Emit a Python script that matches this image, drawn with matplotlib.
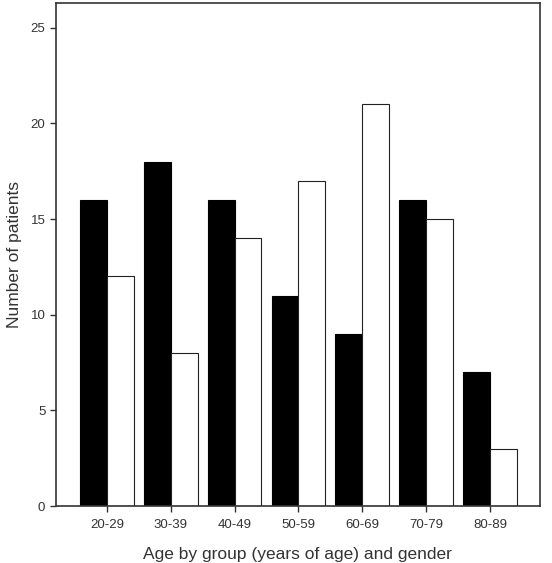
import numpy as np
import matplotlib.pyplot as plt

plt.rcParams['font.family'] = ['Liberation Sans', 'DejaVu Sans']

groups = ['20-29', '30-39', '40-49', '50-59', '60-69', '70-79', '80-89']
black_vals = [16, 18, 16, 11, 9, 16, 7]
white_vals = [12, 8, 14, 17, 21, 15, 3]

fig = plt.figure(figsize=(5.52, 5.63), dpi=100)
ax = fig.add_axes([0.101, 0.101, 0.877, 0.894])

x = np.arange(len(groups))
w = 0.42
ax.bar(x - w / 2, black_vals, w, color='black', edgecolor='black', linewidth=0.8)
ax.bar(x + w / 2, white_vals, w, color='white', edgecolor='#222222', linewidth=0.8)

ax.set_xlim(-0.8, 6.78)
ax.set_ylim(0, 26.3)
ax.set_yticks([0, 5, 10, 15, 20, 25])
ax.set_xticks(x)
ax.set_xticklabels(groups)

for s in ax.spines.values():
    s.set_color('#333333')
    s.set_linewidth(1.2)

ax.tick_params(direction='out', length=4, width=1, colors='#333333',
               labelsize=9.5, labelcolor='#333333')
ax.tick_params(axis='x', pad=5)
ax.set_xlabel('Age by group (years of age) and gender', fontsize=12.5,
              color='#333333', labelpad=12)
ax.set_ylabel('Number of patients', fontsize=12.5, color='#333333', labelpad=6)

fig.savefig('out.png', dpi=100)
